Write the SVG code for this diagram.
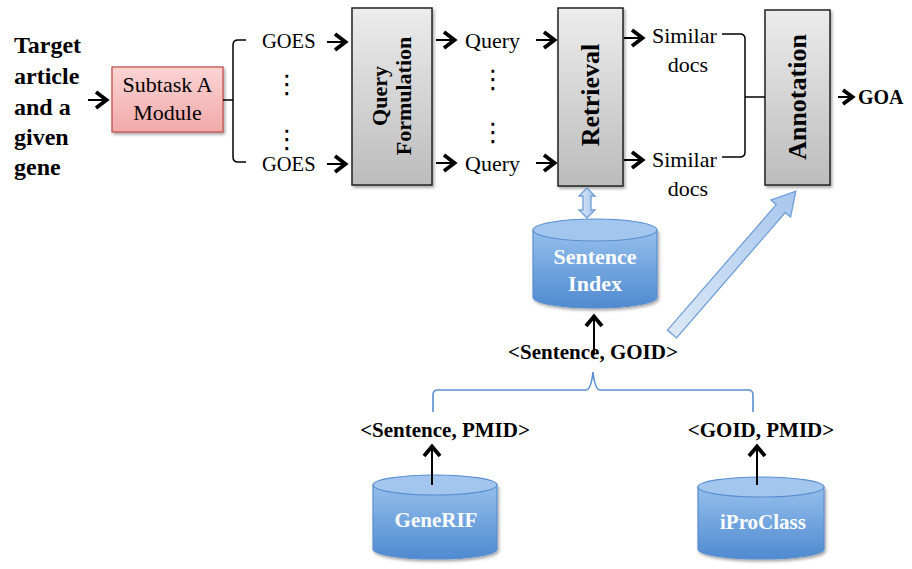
<svg xmlns="http://www.w3.org/2000/svg" xmlns:xlink="http://www.w3.org/1999/xlink" width="912" height="569" viewBox="0 0 912 569">
<style>
.b{font-family:"Liberation Serif",serif;font-weight:bold;fill:#000}
.r{font-family:"Liberation Serif",serif;fill:#000}
.d{font-family:"DejaVu Sans",sans-serif;fill:#000;text-anchor:middle}
.w{font-family:"Liberation Serif",serif;font-weight:bold;fill:#fff;text-anchor:middle}
.gbox{fill:url(#gray);stroke:#222;stroke-width:1.5;filter:url(#sh)}
.cyl{fill:url(#blue);stroke:#5b8fd0;stroke-width:1.2}
.ctop{fill:#a3c6ee;stroke:#5b8fd0;stroke-width:1.2}
.shaft{stroke:#000;stroke-width:2;fill:none}
.head{stroke:#000;stroke-width:3.8;fill:none;stroke-linejoin:miter}
.brk{stroke:#000;stroke-width:1.5;fill:none}
.bbrk{stroke:#5b8fd0;stroke-width:1.6;fill:none}
.hol{fill:url(#lblue);stroke:#6f9fd6;stroke-width:1.3}
</style>
<defs>
<linearGradient id="gray" x1="0" y1="0" x2="0" y2="1"><stop offset="0" stop-color="#ececec"/><stop offset="1" stop-color="#bcbcbc"/></linearGradient>
<linearGradient id="pink" x1="0" y1="0" x2="0" y2="1"><stop offset="0" stop-color="#fcd4d4"/><stop offset="1" stop-color="#f1a9a9"/></linearGradient>
<linearGradient id="blue" x1="0" y1="0" x2="0" y2="1"><stop offset="0" stop-color="#94bfec"/><stop offset="1" stop-color="#4f8ad0"/></linearGradient>
<linearGradient id="lblue" x1="0" y1="0" x2="1" y2="0"><stop offset="0" stop-color="#dbe8f8"/><stop offset="1" stop-color="#a8c6ec"/></linearGradient>
<filter id="sh" x="-20%" y="-20%" width="140%" height="140%"><feDropShadow dx="1.5" dy="2" stdDeviation="1.5" flood-color="#000" flood-opacity="0.35"/></filter>
<g id="chev"><path class="shaft" d="M-20,0 H-4"/><path class="head" d="M-12,-8 L-1.5,0 L-12,8"/></g>
<g id="up"><path class="shaft" d="M0,4 V40"/><path class="head" d="M-8,11 L0,1.5 L8,11"/></g>
</defs>
<rect width="912" height="569" fill="#fff"/>

<g id="input">
<text class="b" font-size="24" x="14" y="53">Target</text>
<text class="b" font-size="24" x="14" y="84">article</text>
<text class="b" font-size="24" x="14" y="115">and a</text>
<text class="b" font-size="24" x="14" y="145">given</text>
<text class="b" font-size="24" x="14" y="175">gene</text>
</g>

<g id="subtask">
<rect x="112" y="67" width="111" height="65" fill="url(#pink)" stroke="#c0504d" stroke-width="1.3" filter="url(#sh)"/>
<text class="r" font-size="22" x="167.5" y="92" text-anchor="middle">Subtask A</text>
<text class="r" font-size="22" x="167.5" y="120" text-anchor="middle">Module</text>
</g>

<g id="goes">
<text class="r" font-size="20.5" x="262" y="48">GOES</text>
<text class="r" font-size="20.5" x="262" y="171">GOES</text>
<text class="d" font-size="26" x="287" y="93">⋮</text>
<text class="d" font-size="26" x="287" y="148">⋮</text>
</g>

<g id="query-formulation">
<rect class="gbox" x="352" y="8" width="80" height="177"/>
<text class="b" font-size="22" text-anchor="middle" dominant-baseline="central" transform="translate(379,96) rotate(-90)">Query</text>
<text class="b" font-size="22" text-anchor="middle" dominant-baseline="central" transform="translate(403,96) rotate(-90)">Formulation</text>
</g>

<g id="queries">
<text class="r" font-size="22" x="465" y="48">Query</text>
<text class="r" font-size="22" x="465" y="171">Query</text>
<text class="d" font-size="26" x="493" y="88">⋮</text>
<text class="d" font-size="26" x="493" y="141">⋮</text>
</g>

<g id="retrieval">
<rect class="gbox" x="558" y="8" width="65" height="178"/>
<text class="b" font-size="26" text-anchor="middle" dominant-baseline="central" transform="translate(590,95) rotate(-90)">Retrieval</text>
</g>

<g id="similar-docs">
<text class="r" font-size="22" x="652" y="43">Similar</text>
<text class="r" font-size="22" x="688" y="72" text-anchor="middle">docs</text>
<text class="r" font-size="22" x="652" y="167">Similar</text>
<text class="r" font-size="22" x="688" y="196" text-anchor="middle">docs</text>
</g>

<g id="annotation">
<rect class="gbox" x="765" y="10" width="65" height="175"/>
<text class="b" font-size="26" text-anchor="middle" dominant-baseline="central" transform="translate(797,97) rotate(-90)">Annotation</text>
</g>

<g id="goa">
<text class="b" font-size="20" x="858" y="104">GOA</text>
</g>

<g id="sentence-index">
<path class="cyl" d="M533,230 V297 A62,11 0 0 0 657,297 V230 Z" filter="url(#sh)"/>
<ellipse class="ctop" cx="595" cy="230" rx="62" ry="11"/>
<text class="w" font-size="22" x="595" y="264">Sentence</text>
<text class="w" font-size="22" x="595" y="291">Index</text>
</g>

<g id="sentence-goid">
<text class="b" font-size="21" x="593" y="359" text-anchor="middle">&lt;Sentence, GOID&gt;</text>
</g>

<g id="sentence-pmid">
<text class="b" font-size="21" x="445" y="437" text-anchor="middle">&lt;Sentence, PMID&gt;</text>
</g>

<g id="goid-pmid">
<text class="b" font-size="21" x="761" y="437" text-anchor="middle">&lt;GOID, PMID&gt;</text>
</g>

<g id="generif">
<path class="cyl" d="M373,485 V549 A62,10 0 0 0 497,549 V485 Z" filter="url(#sh)"/>
<ellipse class="ctop" cx="435" cy="485" rx="62" ry="10"/>
<text class="w" font-size="21" x="436" y="527">GeneRIF</text>
</g>

<g id="iproclass">
<path class="cyl" d="M698,487 V549 A63,10 0 0 0 824,549 V487 Z" filter="url(#sh)"/>
<ellipse class="ctop" cx="761" cy="487" rx="63" ry="10"/>
<text class="w" font-size="21" x="763" y="529">iProClass</text>
</g>

<g id="connectors">
<use xlink:href="#chev" x="108" y="100"/>
<path class="brk" d="M223,100 H233 M246,40 H238 Q233,40 233,45 V157 Q233,162 238,162 H246"/>
<use xlink:href="#chev" x="347" y="42"/>
<use xlink:href="#chev" x="347" y="164"/>
<use xlink:href="#chev" x="456" y="40"/>
<use xlink:href="#chev" x="456" y="163"/>
<use xlink:href="#chev" x="556" y="40"/>
<use xlink:href="#chev" x="556" y="163"/>
<use xlink:href="#chev" x="644" y="38"/>
<use xlink:href="#chev" x="644" y="160"/>
<path class="brk" d="M722,34 H740 Q745,34 745,39 V152 Q745,157 740,157 H722 M745,97 H765"/>
<path class="shaft" d="M838,97 H849"/><path class="head" d="M843,90 L852.5,97 L843,104"/>
<polygon class="hol" points="587,188 595,196 591,196 591,210 595,210 587,218 579,210 583,210 583,196 579,196"/>
<use xlink:href="#up" x="594" y="315"/>
<polygon class="hol" transform="translate(672,334) rotate(-49.07)" points="0,-6 166,-6 166,-13 189,0 166,13 166,6 0,6"/>
<path class="bbrk" d="M433,412 V395 Q433,390 438,390 H586 Q591,390 593,372 Q595,390 600,390 H748 Q753,390 753,395 V412"/>
<use xlink:href="#up" x="432" y="445"/>
<use xlink:href="#up" x="757" y="445"/>
</g>
</svg>
